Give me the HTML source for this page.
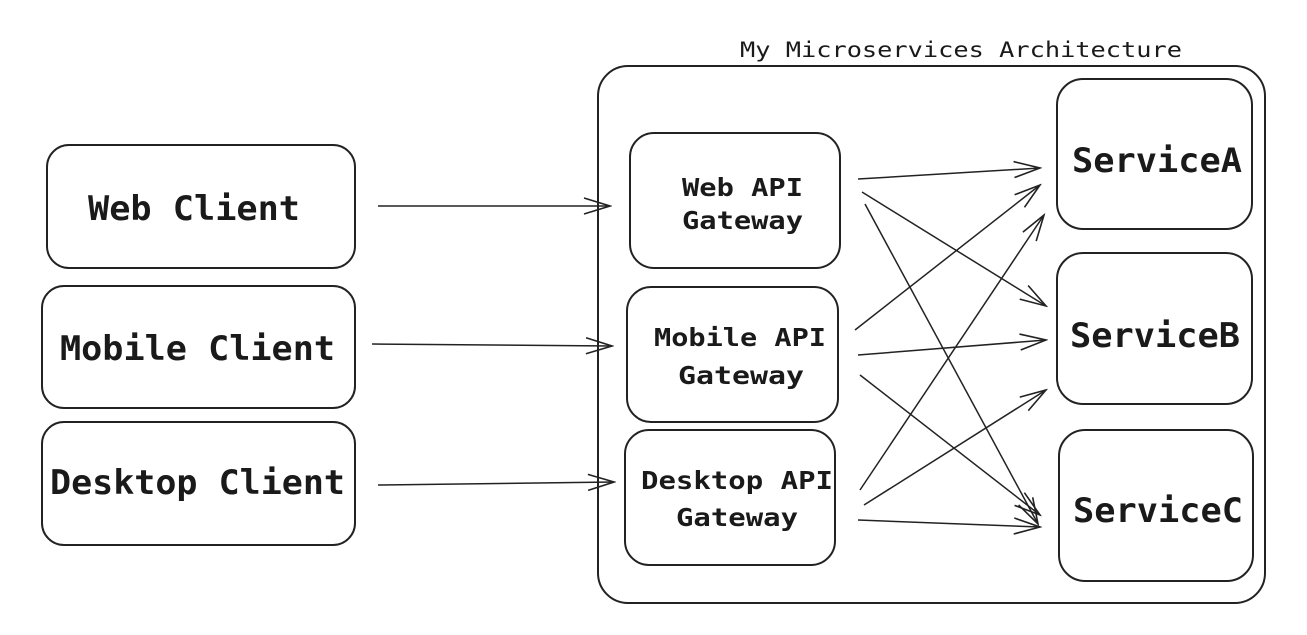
<!DOCTYPE html>
<html><head><meta charset="utf-8"><style>
html,body{margin:0;padding:0;background:#fff;}
svg{display:block;}
text{font-family:"DejaVu Sans Mono","Liberation Mono",monospace;fill:#1a1a1a;}
</style></head><body>
<svg width="1307" height="635" viewBox="0 0 1307 635" xmlns="http://www.w3.org/2000/svg">
<defs>
<marker id="ah" viewBox="0 0 30 20" refX="28" refY="10" markerWidth="30" markerHeight="20" markerUnits="userSpaceOnUse" orient="auto">
<path d="M2 2 L28 10 L2 18" fill="none" stroke="#222" stroke-width="1.6"/>
</marker>
</defs>
<g fill="none" stroke="#222" stroke-width="2">
<rect x="598" y="66" width="667" height="537" rx="30"/>
<rect x="47" y="145" width="308" height="123" rx="22"/>
<rect x="42" y="286" width="313" height="122" rx="22"/>
<rect x="42" y="422" width="313" height="123" rx="22"/>
<rect x="630" y="133" width="210" height="135" rx="24"/>
<rect x="627" y="287" width="211" height="135" rx="24"/>
<rect x="625" y="430" width="210" height="135" rx="24"/>
<rect x="1057" y="79" width="195" height="150" rx="26"/>
<rect x="1057" y="253" width="195" height="151" rx="26"/>
<rect x="1059" y="430" width="194" height="151" rx="26"/>
</g>
<g stroke="#222" stroke-width="1.5" fill="none" marker-end="url(#ah)">
<line x1="378" y1="206" x2="610" y2="206"/>
<line x1="372" y1="344" x2="612" y2="346"/>
<line x1="378" y1="485" x2="614" y2="482"/>
<line x1="858" y1="179" x2="1040" y2="168"/>
<line x1="862" y1="192" x2="1046" y2="306"/>
<line x1="865" y1="204" x2="1038" y2="524"/>
<line x1="855" y1="330" x2="1040" y2="185"/>
<line x1="858" y1="355" x2="1046" y2="340"/>
<line x1="860" y1="375" x2="1040" y2="515"/>
<line x1="860" y1="490" x2="1044" y2="215"/>
<line x1="864" y1="505" x2="1046" y2="390"/>
<line x1="858" y1="520" x2="1040" y2="527"/>
</g>
<text x="740" y="57" font-size="21" textLength="442" lengthAdjust="spacingAndGlyphs">My Microservices Architecture</text>
<g font-size="34" font-weight="bold">
<text x="88" y="220" textLength="212" lengthAdjust="spacingAndGlyphs">Web Client</text>
<text x="60" y="360" textLength="275" lengthAdjust="spacingAndGlyphs">Mobile Client</text>
<text x="50" y="494" textLength="295" lengthAdjust="spacingAndGlyphs">Desktop Client</text>
<text x="1072" y="172" textLength="170" lengthAdjust="spacingAndGlyphs">ServiceA</text>
<text x="1070" y="347" textLength="170" lengthAdjust="spacingAndGlyphs">ServiceB</text>
<text x="1073" y="522" textLength="170" lengthAdjust="spacingAndGlyphs">ServiceC</text>
</g>
<g font-size="25" font-weight="bold">
<text x="682" y="196" textLength="121" lengthAdjust="spacingAndGlyphs">Web API</text>
<text x="682" y="229" textLength="121" lengthAdjust="spacingAndGlyphs">Gateway</text>
<text x="654" y="346" textLength="172" lengthAdjust="spacingAndGlyphs">Mobile API</text>
<text x="678" y="384" textLength="126" lengthAdjust="spacingAndGlyphs">Gateway</text>
<text x="641" y="489" textLength="192" lengthAdjust="spacingAndGlyphs">Desktop API</text>
<text x="676" y="526" textLength="122" lengthAdjust="spacingAndGlyphs">Gateway</text>
</g>
</svg>
</body></html>
